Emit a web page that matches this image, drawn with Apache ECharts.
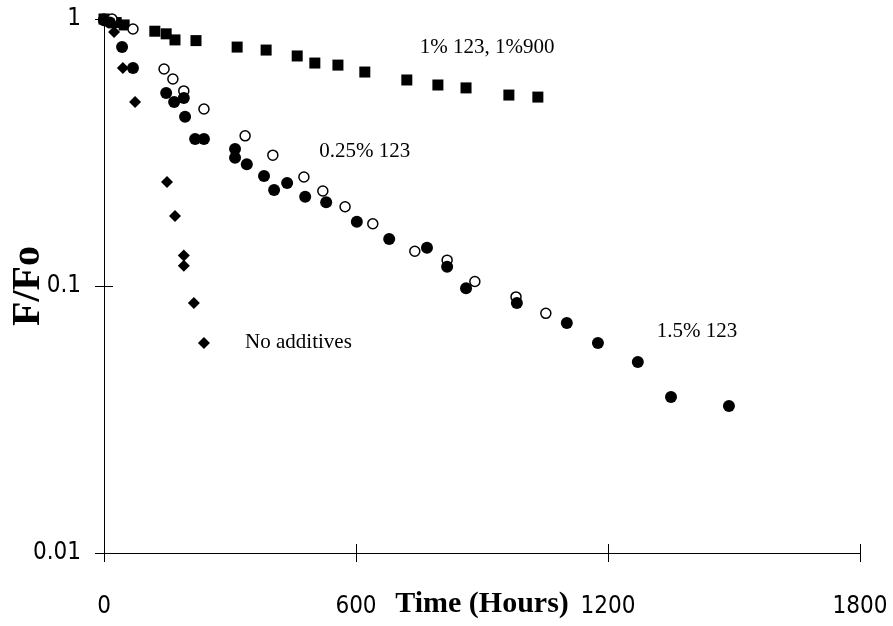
<!DOCTYPE html>
<html>
<head>
<meta charset="utf-8">
<script src="https://cdn.jsdelivr.net/npm/echarts@6/dist/echarts.min.js"></script>
<style>
  html, body { margin: 0; padding: 0; background: #fff; }
  #chart { width: 893px; height: 626px; }
</style>
</head>
<body>
<div id="chart"></div>
<script>
// axis ticks
const xTicks = [0, 600, 1200, 1800]
const yTicks = [0.01, 0.1, 1]

// 1% 123, 1%900 (squares)
const squareHours = [0, 14, 29, 48, 121, 148, 169, 219, 317, 386, 460, 502, 557, 621, 721, 795, 862, 964, 1033]
const squareValues = [1.0, 0.99, 0.97, 0.95, 0.90, 0.88, 0.835, 0.83, 0.785, 0.765, 0.727, 0.684, 0.672, 0.633, 0.591, 0.566, 0.552, 0.519, 0.51]

// 1.5% 123 (filled circles)
const filledHours = [0, 14, 43, 69, 148, 167, 190, 193, 217, 238, 312, 312, 340, 381, 405, 436, 479, 529, 602, 679, 769, 817, 862, 983, 1102, 1176, 1271, 1350, 1488]
const filledValues = [0.99, 0.97, 0.785, 0.655, 0.528, 0.489, 0.506, 0.43, 0.355, 0.355, 0.326, 0.302, 0.286, 0.258, 0.229, 0.243, 0.216, 0.206, 0.174, 0.15, 0.139, 0.118, 0.098, 0.0864, 0.0727, 0.0612, 0.0519, 0.0384, 0.0355]

// 0.25% 123 (open circles)
const openHours = [0, 19, 69, 143, 164, 190, 238, 336, 402, 476, 521, 574, 640, 740, 817, 883, 981, 1052]
const openValues = [1.0, 1.0, 0.917, 0.65, 0.596, 0.538, 0.46, 0.365, 0.309, 0.256, 0.227, 0.198, 0.171, 0.135, 0.125, 0.104, 0.091, 0.079]

// no additives (diamonds)
const diamondHours = [0, 10, 24, 45, 74, 150, 169, 190, 190, 214, 238]
const diamondValues = [0.99, 0.97, 0.894, 0.655, 0.489, 0.245, 0.183, 0.13, 0.119, 0.0864, 0.0612]

// text notes, anchored in data units
const noteTexts = ["1% 123, 1%900", "0.25% 123", "1.5% 123", "No additives"]
const noteHours = [912, 621, 1412, 336]
const noteValues = [0.779, 0.32, 0.0674, 0.0612]

const zip = (xs, ys) => xs.map((x, i) => [x, ys[i]])

const serif = "'Liberation Serif', 'Times New Roman', serif"
const narrow = "'DejaVu Sans Condensed', 'Liberation Sans', Arial, sans-serif"

const chart = echarts.init(document.getElementById("chart"))

const baseX = {
  type: "value",
  gridIndex: 0,
  min: xTicks[0],
  max: xTicks[xTicks.length - 1],
  interval: 600,
  splitLine: { show: false }
}
const baseY = {
  type: "log",
  logBase: 10,
  gridIndex: 0,
  min: yTicks[0],
  max: yTicks[yTicks.length - 1],
  splitLine: { show: false }
}

chart.setOption({
  animation: false,
  backgroundColor: "#fff",
  grid: { left: 104, right: 33, top: 19, bottom: 73, containLabel: false, outerBoundsMode: "none" },
  xAxis: [
    Object.assign({}, baseX, {
      position: "bottom",
      axisLine: { show: true, lineStyle: { color: "#000", width: 1 } },
      axisTick: { show: true, length: 9, lineStyle: { color: "#000" } },
      axisLabel: { color: "#000", fontFamily: narrow, fontSize: 24, margin: 42, formatter: v => String(v) },
      name: "Time (Hours)",
      nameLocation: "middle",
      nameGap: 36,
      nameMoveOverlap: false,
      nameTextStyle: { color: "#000", fontFamily: serif, fontWeight: "bold", fontSize: 30 }
    }),
    Object.assign({}, baseX, {
      position: "bottom",
      axisLine: { show: false },
      axisTick: { show: true, inside: true, length: 9, lineStyle: { color: "#000" } },
      axisLabel: { show: false }
    })
  ],
  yAxis: [
    Object.assign({}, baseY, {
      position: "left",
      axisLine: { show: true, lineStyle: { color: "#000", width: 1 } },
      axisTick: { show: true, length: 9, lineStyle: { color: "#000" } },
      axisLabel: { color: "#000", fontFamily: narrow, fontSize: 24, margin: 23, formatter: v => String(v) },
      name: "F/Fo",
      nameLocation: "middle",
      nameRotate: 90,
      nameGap: 55,
      nameMoveOverlap: false,
      nameTextStyle: { color: "#000", fontFamily: serif, fontWeight: "bold", fontSize: 40 }
    }),
    Object.assign({}, baseY, {
      position: "left",
      axisLine: { show: false },
      axisTick: { show: true, inside: true, length: 9, lineStyle: { color: "#000" } },
      axisLabel: { show: false }
    })
  ],
  series: [
    {
      name: "1% 123, 1%900",
      type: "scatter",
      clip: false,
      symbol: "rect",
      symbolSize: 11,
      itemStyle: { color: "#000", opacity: 1 },
      data: zip(squareHours, squareValues)
    },
    {
      name: "0.25% 123",
      type: "scatter",
      clip: false,
      symbol: "circle",
      symbolSize: 10,
      itemStyle: { color: "#fff", borderColor: "#000", borderWidth: 1.5, opacity: 1 },
      data: zip(openHours, openValues)
    },
    {
      name: "1.5% 123",
      type: "scatter",
      clip: false,
      symbol: "circle",
      symbolSize: 12,
      itemStyle: { color: "#000", opacity: 1 },
      data: zip(filledHours, filledValues)
    },
    {
      name: "No additives",
      type: "scatter",
      clip: false,
      symbol: "diamond",
      symbolSize: 12,
      itemStyle: { color: "#000", opacity: 1 },
      data: zip(diamondHours, diamondValues)
    },
    {
      name: "notes",
      type: "scatter",
      silent: true,
      symbolSize: 0,
      itemStyle: { opacity: 1 },
      data: noteTexts.map((t, i) => ({
        value: [noteHours[i], noteValues[i]],
        label: {
          show: true,
          position: "inside",
          align: i === 3 ? "left" : "center",
          formatter: t,
          color: "#000",
          opacity: 1,
          fontFamily: serif,
          fontSize: 21
        }
      }))
    }
  ]
})
</script>
</body>
</html>
